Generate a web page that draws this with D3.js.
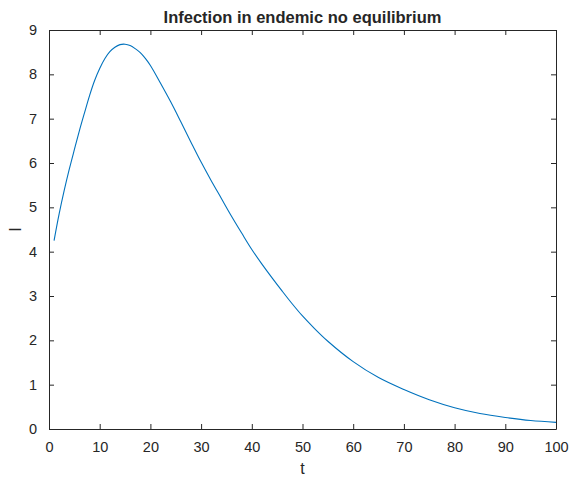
<!DOCTYPE html>
<html>
<head>
<meta charset="utf-8">
<script src="https://cdn.jsdelivr.net/npm/d3@7"></script>
<style>
  html, body { margin: 0; padding: 0; background: #fff; }
  svg { display: block; }
  text { font-family: "Liberation Sans", Arial, Helvetica, sans-serif; fill: #262626; }
</style>
</head>
<body>
<svg id="chart" width="570" height="477"></svg>
<script>
// Data
const tValues = [1, 2, 3, 4, 5, 6, 7, 8, 9, 10, 11, 12, 13, 14, 15, 16, 17, 18, 19, 20, 22, 24, 26, 28, 30, 32, 34, 36, 38, 40, 42, 44, 46, 48, 50, 52, 55, 60, 65, 70, 75, 80, 85, 90, 95, 100];
const iValues = [4.25, 4.85, 5.38, 5.86, 6.3, 6.73, 7.13, 7.52, 7.86, 8.13, 8.35, 8.51, 8.61, 8.67, 8.68, 8.65, 8.58, 8.49, 8.36, 8.2, 7.8, 7.38, 6.93, 6.47, 6.02, 5.6, 5.2, 4.8, 4.42, 4.05, 3.72, 3.41, 3.11, 2.82, 2.55, 2.31, 1.98, 1.52, 1.16, 0.89, 0.66, 0.48, 0.35, 0.26, 0.19, 0.15];
const xTicks = [0, 10, 20, 30, 40, 50, 60, 70, 80, 90, 100];
const yTicks = [0, 1, 2, 3, 4, 5, 6, 7, 8, 9];
const titleText = "Infection in endemic no equilibrium";
const xLabelText = "t";
const yLabelText = "I";

const data = tValues.map((t, i) => ({ t, v: iValues[i] }));

const svg = d3.select("#chart");
const mLeft = 49, mRight = 556, mTop = 30, mBottom = 429;
const axisColor = "#262626";

const x = d3.scaleLinear().domain([0, 100]).range([mLeft, mRight]);
const y = d3.scaleLinear().domain([0, 9]).range([mBottom, mTop]);

// Curve
const line = d3.line().x(d => x(d.t)).y(d => y(d.v)).curve(d3.curveCatmullRom.alpha(0.5));
svg.append("path").datum(data)
  .attr("d", line)
  .attr("fill", "none")
  .attr("stroke", "#0072BD")
  .attr("stroke-width", 1.1);

// Axes (MATLAB style: ticks inward, box on)
const fs = 14.5;
const bottomAxis = d3.axisBottom(x).tickValues(xTicks).tickSizeInner(-5).tickSizeOuter(0).tickPadding(13);
const gB = svg.append("g").attr("transform", `translate(0,${mBottom})`).call(bottomAxis);
const topAxis = d3.axisTop(x).tickValues(xTicks).tickSizeInner(-5).tickSizeOuter(0).tickFormat("");
const gT = svg.append("g").attr("transform", `translate(0,${mTop})`).call(topAxis);
const leftAxis = d3.axisLeft(y).tickValues(yTicks).tickSizeInner(-5).tickSizeOuter(0).tickPadding(12);
const gL = svg.append("g").attr("transform", `translate(${mLeft},0)`).call(leftAxis);
const rightAxis = d3.axisRight(y).tickValues(yTicks).tickSizeInner(-5).tickSizeOuter(0).tickFormat("");
const gR = svg.append("g").attr("transform", `translate(${mRight},0)`).call(rightAxis);

[gB, gT, gL, gR].forEach(g => {
  g.select(".domain").attr("stroke", axisColor).attr("stroke-width", 1);
  g.selectAll(".tick line").attr("stroke", axisColor).attr("stroke-width", 1);
  g.selectAll(".tick text").attr("font-size", fs).attr("fill", axisColor)
    .attr("font-family", "'Liberation Sans', Arial, Helvetica, sans-serif");
});

// Title
svg.append("text").attr("x", (mLeft + mRight) / 2).attr("y", 23)
  .attr("text-anchor", "middle").attr("font-size", 16.5).attr("font-weight", "bold")
  .attr("fill", "#000").text(titleText);

// Axis labels
svg.append("text").attr("x", (mLeft + mRight) / 2).attr("y", 474)
  .attr("text-anchor", "middle").attr("font-size", 16).text(xLabelText);
svg.append("text").attr("transform", `translate(21,${(mTop + mBottom) / 2}) rotate(-90)`)
  .attr("text-anchor", "middle").attr("font-size", 16).text(yLabelText);
</script>
</body>
</html>
